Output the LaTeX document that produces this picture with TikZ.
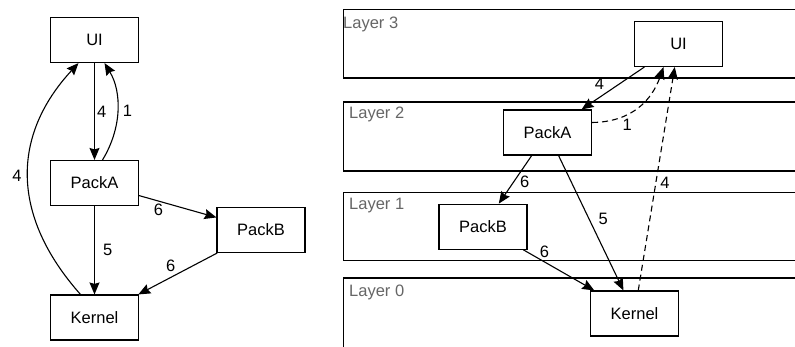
\documentclass[tikz,border=0pt]{standalone}
\usepackage{fontspec}
\setmainfont{Liberation Sans}
\usetikzlibrary{arrows.meta}

\tikzset{
  pack/.style={draw, line width=1.1pt, fill=white, minimum width=88pt, minimum height=45pt, font=\fontsize{16.5}{20}\selectfont},
  dep/.style={-{Stealth[length=12pt,width=10pt,inset=1.5pt]}, line width=1.1pt},
  weakdep/.style={dep, dash pattern=on 6pt off 4pt},
  lbl/.style={font=\fontsize{16.5}{20}\selectfont, inner sep=2pt},
  layer/.style={line width=1.1pt},
  layername/.style={anchor=north west, inner sep=0pt, text=black!60, font=\fontsize{16.5}{20}\selectfont},
}

\begin{document}
\begin{tikzpicture}[x=1pt,y=-1pt]
\useasboundingbox (0,0) rectangle (795,347);
\begin{scope}
\node[pack] (ui) at (94.5,40) {UI};
\node[pack] (packa) at (94.5,183) {PackA};
\node[pack] (packb) at (261,230) {PackB};
\node[pack] (kernel) at (94.5,317.5) {Kernel};
\draw[dep] (ui) -- (packa) node[lbl, midway, right] {4};
\draw[dep] ([xshift=8pt]packa.north) .. controls (122,128) and (122,92) .. ([xshift=10pt]ui.south) node[lbl, pos=0.5, right=3pt] {1};
\draw[dep] ([xshift=-14pt]kernel.north) .. controls (10,215) and (12,135) .. ([xshift=-16pt]ui.south) node[lbl, pos=0.5, left=4pt] {4};
\draw[dep] (packa) -- (kernel) node[lbl, midway, right=6pt] {5};
\draw[dep] (packa) -- (packb) node[lbl, pos=0.25, below] {6};
\draw[dep] (packb) -- (kernel) node[lbl, midway, above left] {6};
\end{scope}
\begin{scope}
% layers
\draw[layer] (795,9.5) -- (343.5,9.5) -- (343.5,78) -- (795,78);
\draw[layer] (795,102) -- (343.5,102) -- (343.5,171) -- (795,171);
\draw[layer] (795,192.7) -- (343.5,192.7) -- (343.5,260.7) -- (795,260.7);
\draw[layer] (795,278) -- (343.5,278) -- (343.5,347);
\node[layername] (l3) at (343,17) {Layer 3};
\node[layername] (l2) at (349,106.7) {Layer 2};
\node[layername] (l1) at (349,198.3) {Layer 1};
\node[layername] (l0) at (349,285) {Layer 0};
\node[pack] (lui) at (678.5,44) {UI};
\node[pack] (lpacka) at (547.5,132.5) {PackA};
\node[pack] (lpackb) at (483,226.7) {PackB};
\node[pack] (lkernel) at (634.5,313.5) {Kernel};
\draw[dep] (lui) -- (lpacka) node[lbl, pos=0.6, above left] {4};
\draw[weakdep] ([yshift=10pt]lpacka.east) .. controls (632,122) and (652,100) .. ([xshift=-15pt]lui.south) node[lbl, pos=0.35, below=2pt] {1};
\draw[weakdep] (lkernel) -- (lui) node[lbl, pos=0.48, right=2pt] {4};
\draw[dep] (lpacka) -- (lpackb) node[lbl, pos=0.55, right=4pt] {6};
\draw[dep] (lpacka) -- (lkernel) node[lbl, pos=0.47, right=7pt] {5};
\draw[dep] (lpackb) -- (lkernel) node[lbl, pos=0.3, above=2pt] {6};
\end{scope}
\end{tikzpicture}
\end{document}
